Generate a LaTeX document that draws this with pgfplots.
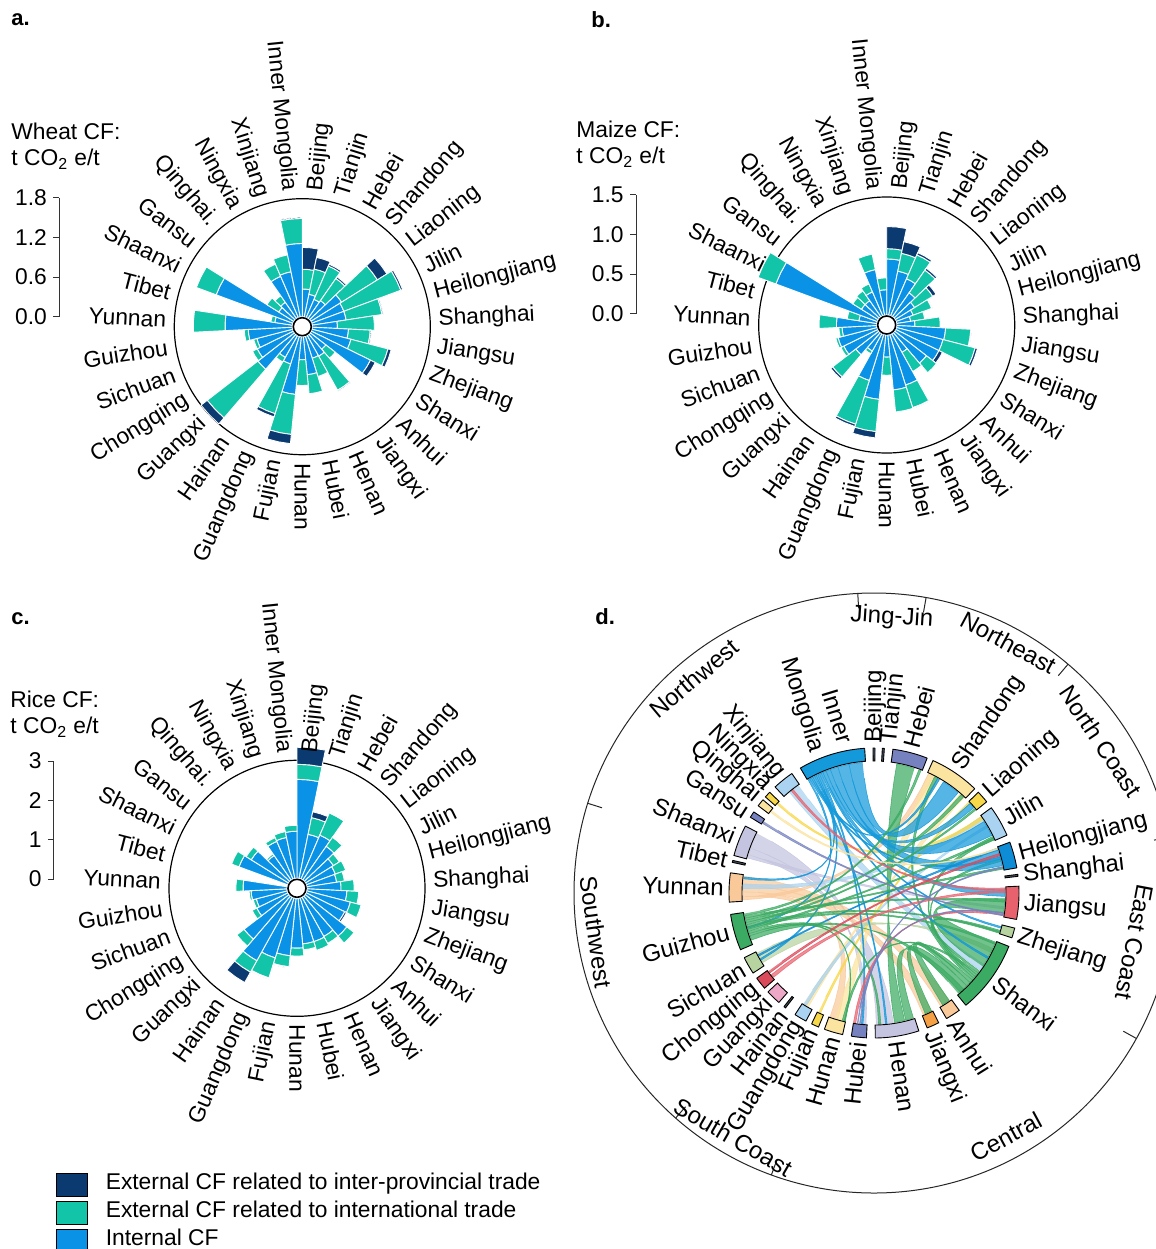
\documentclass[border=0pt]{standalone}
\usepackage{fontspec}
\setmainfont{Liberation Sans}
\usepackage{pgfplots}
\usepackage{pgfplotstable}
\pgfplotsset{compat=1.18}
\usepgfplotslibrary{polar}

% bar colours
\definecolor{cInter}{HTML}{0B3A70}
\definecolor{cIntl}{HTML}{12C4A8}
\definecolor{cInt}{HTML}{0A93E6}
% province colours of the flow diagram
\definecolor{cIM}{HTML}{1499DA}
\definecolor{cSmall}{HTML}{46505A}
\definecolor{cHeb}{HTML}{7682BF}
\definecolor{cShd}{HTML}{FBE4A0}
\definecolor{cLia}{HTML}{F7D84A}
\definecolor{cJil}{HTML}{A9D3F0}
\definecolor{cHlj}{HTML}{0E8CD6}
\definecolor{cJs}{HTML}{E8626E}
\definecolor{cZj}{HTML}{B7D3A0}
\definecolor{cSx}{HTML}{3BAA62}
\definecolor{cAh}{HTML}{F9C99A}
\definecolor{cJx}{HTML}{F5A044}
\definecolor{cHn}{HTML}{C4C4E0}
\definecolor{cGx}{HTML}{EDA8C8}
\definecolor{cCq}{HTML}{DB4A5A}

\newcommand\fs{\fontsize{11.4bp}{13.7bp}\selectfont}
\newcommand\fsd{\fontsize{12bp}{14.4bp}\selectfont}

% ---------------- carbon footprints, t CO2e per t (Beijing first, clockwise)
\pgfplotstableread{
prov internal intl inter
0  0.42 0.30 0.33
1  0.35 0.39 0.18
2  0.30 0.55 0.03
3  0.33 0.41 0.03
4  0.55 0.64 0.17
5  0.52 0.92 0.03
6  0.52 0.55 0.02
7  0.38 0.56 0.00
8  0.55 0.33 0.02
9  0.61 0.58 0.05
10 1.00 0.00 0.08
11 0.30 0.18 0.00
12 0.36 0.59 0.02
13 0.35 0.29 0.00
14 0.58 0.29 0.00
15 0.35 0.39 0.00
16 0.88 0.61 0.14
17 0.44 0.79 0.05
18 0.38 0.08 0.00
19 0.70 0.97 0.12
20 0.61 0.08 0.00
21 0.56 0.05 0.00
22 0.67 0.06 0.00
23 1.02 0.48 0.00
24 0.27 0.06 0.00
25 1.24 0.32 0.00
26 0.27 0.21 0.00
27 0.30 0.12 0.00
28 0.68 0.20 0.00
29 0.70 0.26 0.00
30 1.11 0.38 0.02
}\wheat

\pgfplotstableread{
prov internal intl inter
0  0.71 0.13 0.28
1  0.57 0.23 0.15
2  0.51 0.33 0.03
3  0.37 0.35 0.03
4  0.29 0.27 0.05
5  0.23 0.25 0.01
6  0.18 0.18 0.00
7  0.23 0.32 0.00
8  0.62 0.32 0.01
9  0.61 0.42 0.03
10 0.61 0.00 0.05
11 0.51 0.16 0.00
12 0.27 0.28 0.01
13 0.67 0.30 0.01
14 0.70 0.28 0.00
15 0.28 0.23 0.00
16 0.82 0.41 0.08
17 0.61 0.58 0.03
18 0.25 0.04 0.00
19 0.37 0.37 0.03
20 0.48 0.04 0.00
21 0.51 0.03 0.00
22 0.44 0.04 0.00
23 0.51 0.22 0.00
24 0.23 0.15 0.00
25 1.37 0.24 0.00
26 0.25 0.13 0.00
27 0.25 0.15 0.00
28 0.33 0.11 0.00
29 0.59 0.20 0.00
30 0.32 0.15 0.00
}\maize

\pgfplotstableread{
prov internal intl inter
0  2.50 0.38 0.43
1  1.14 0.43 0.15
2  1.21 0.61 0.03
3  1.04 0.28 0.03
4  0.83 0.18 0.03
5  0.78 0.28 0.00
6  0.76 0.20 0.00
7  0.86 0.33 0.00
8  1.01 0.30 0.00
9  1.14 0.28 0.00
10 1.09 0.00 0.05
11 1.34 0.23 0.00
12 1.14 0.20 0.00
13 1.16 0.23 0.00
14 1.16 0.15 0.00
15 1.26 0.20 0.00
16 1.46 0.28 0.03
17 1.59 0.53 0.03
18 1.84 0.33 0.30
19 1.44 0.23 0.00
20 0.88 0.13 0.00
21 0.81 0.08 0.00
22 0.91 0.05 0.00
23 1.11 0.18 0.00
24 0.00 0.00 0.00
25 1.31 0.20 0.00
26 1.11 0.15 0.00
27 0.76 0.05 0.00
28 1.04 0.10 0.00
29 1.06 0.15 0.00
30 1.19 0.15 0.00
}\rice

% ---------------- flow diagram: province sectors (degrees) and flows
\pgfplotstableread{
a1     a2     col
93.7   120.5  cIM
89.6   90.4   cSmall
85.9   86.7   cSmall
68.5   82.5   cHeb
46     66     cShd
39     44     cLia
23.5   36     cJil
10     20.5   cHlj
6.6    7.4    cSmall
-10.5  2.7    cJs
-18    -14    cZj
-50.7  -21.6  cSx
-60    -54    cAh
-68.5  -63.5  cJx
-89.5  -72    cHn
-99    -93    cHeb
-110   -102.5 cShd
-115.5 -112.5 cLia
-123   -118   cJil
-128.4 -127.6 cSmall
-137   -131   cGx
-144   -139   cCq
-153.5 -146.5 cZj
-171.5 -157   cSx
172    183.6  cAh
167    167.8  cSmall
152.5  165    cHn
146    148.5  cHeb
140    143    cShd
136    138.5  cLia
124.5  133    cJil
}\sectors

\pgfplotstableread{
a1     a2     b1     b2     col
153    160    -81.5  -89    cHn
160    163    -93.5  -96    cHn
163    164.5  -7     -6     cHn
172.5  176.5  -59.5  -55    cAh
176.5  179.5  -68    -64    cAh
179.5  181.5  -109.5 -106   cAh
181.5  183    63     65.5   cAh
60     65     -103   -107   cShd
46.5   49     -120   -122   cShd
125    130    -36    -33    cJil
33     35.5   176    178    cJil
-122.5 -121   30     31     cJil
136.5  137.5  34     35.5   cLia
-115   -114   43     43.8   cLia
-153   -148   -25    -27    cZj
-50    -45    -72.5  -76    cSx
-45    -43    -55    -58.5  cSx
-43    -41.5  -64    -67    cSx
-34    -22.5  -9     -2.5   cSx
-41.5  -40.5  61     62.5   cSx
-40.5  -39.5  24     25.5   cSx
-39.5  -38.5  14     15     cSx
-38.5  -37.5  -104   -103   cSx
-37.5  -36.5  -16.5  -17.5  cSx
72     80     -76.5  -81    cSx
95     101    50     58     cIM
101    106    12     19     cIM
106    109.5  26     33     cIM
109.5  111.5  40.5   43     cIM
111.5  113    -1.5   1.5    cIM
113    113.8  -15.5  -14.8  cIM
113.8  114.6  -95.5  -94.8  cIM
114.6  115.4  -150   -149.3 cIM
115.4  116.2  173    173.8  cIM
116.2  117    -30    -29.2  cIM
117    117.8  -85    -84.3  cIM
117.8  118.6  60     61     cIM
118.6  119.4  15     16     cIM
119.4  120.2  -165   -164.3 cIM
19     20     -152   -151.3 cHlj
-171   -170   69     70     cSx
-170   -169   -4     -3     cSx
-169   -168   47     48.5   cSx
-168   -167   10.5   11.5   cSx
-167   -166   39.2   40     cSx
-166   -165   -17.8  -17    cSx
-165   -164   -23    -22    cSx
-164   -163   23.8   24.8   cSx
-163   -162   -88    -87    cSx
-162   -161   -103   -102.6 cSx
-161   -159   -47    -49    cSx
0      1.2    -141.5 -140   cJs
1.2    2.2    128    129    cJs
-10    -9.3   -99    -98    cJs
-143.5 -142.5 16.5   17.5   cCq
-97.5  -97    -9     -8.5   cHeb
-96.5  -96    11     11.6   cHeb
147    148    -10    -9.5   cHeb
141    142    19.5   20     cShd
}\flows

\newcommand\provnames{Beijing,Tianjin,Hebei,Shandong,Liaoning,Jilin,Heilongjiang,Shanghai,Jiangsu,Zhejiang,Shanxi,Anhui,Jiangxi,Henan,Hubei,Hunan,Fujian,Guangdong,Hainan,Guangxi,Chongqing,Sichuan,Guizhou,Yunnan,Tibet,Shaanxi,Gansu,Qinghai.,Ningxia,Xinjiang,Inner Mongolia}
\newcommand\rzero{10}

% one stacked piece of a wedge, between radii #1 and #2
\newcommand\barseg[3]{%
  \ifdim #2pt>\dimexpr #1pt+0.2pt\relax
    \edef\tmpplot{\noexpand\addplot[fill=#3,draw=white,line width=0.45bp]
      coordinates {(\angL,#1) (\angL,#2) (\angC,#2) (\angR,#2) (\angR,#1) (\angC,#1) (\angL,#1)};}%
    \tmpplot
  \fi}

% stacked wedges of one crop: #1 table, #2 radius units per t CO2e/t
\newcommand\cfbars[2]{%
  \pgfplotsforeachungrouped \ii in {0,...,30}{%
    \pgfplotstablegetelem{\ii}{internal}\of{#1}\let\valA\pgfplotsretval
    \pgfplotstablegetelem{\ii}{intl}\of{#1}\let\valB\pgfplotsretval
    \pgfplotstablegetelem{\ii}{inter}\of{#1}\let\valC\pgfplotsretval
    \pgfmathsetmacro\angC{90-360/31*(\ii+0.5)}%
    \pgfmathsetmacro\angL{\angC+180/31}%
    \pgfmathsetmacro\angR{\angC-180/31}%
    \pgfmathsetmacro\radA{\rzero+#2*\valA}%
    \pgfmathsetmacro\radB{\radA+#2*\valB}%
    \pgfmathsetmacro\radC{\radB+#2*\valC}%
    \barseg{\rzero}{\radA}{cInt}%
    \barseg{\radA}{\radB}{cIntl}%
    \barseg{\radB}{\radC}{cInter}%
  }}

% province names around a wedge chart
\newcommand\cflabels{%
  \foreach \nm [count=\jj from 0] in \provnames {%
    \pgfmathsetmacro\angC{90-360/31*(\jj+0.5)}%
    \pgfmathtruncatemacro\isright{\angC>-90.5}%
    \ifnum\isright=1
      \edef\tmpnode{\noexpand\node[font=\noexpand\fs,inner sep=0pt,anchor=west,rotate=\angC] at (axis cs:\angC,136) {\nm};}%
    \else
      \pgfmathsetmacro\rotA{\angC+180}%
      \edef\tmpnode{\noexpand\node[font=\noexpand\fs,inner sep=0pt,anchor=east,rotate=\rotA] at (axis cs:\angC,136) {\nm};}%
    \fi
    \tmpnode}}

% ring sector of the flow diagram
\newcommand\ringseg[3]{%
  \gdef\ringpts{}%
  \pgfmathtruncatemacro\nseg{max(1,ceil(abs((#2)-(#1))/1.5))}%
  \foreach \kk in {0,...,\nseg}{%
    \pgfmathsetmacro\angT{#1+((#2)-(#1))*\kk/\nseg}\xdef\ringpts{\ringpts(\angT,145)}}%
  \foreach \kk in {\nseg,...,0}{%
    \pgfmathsetmacro\angT{#1+((#2)-(#1))*\kk/\nseg}\xdef\ringpts{\ringpts(\angT,132)}}%
  \edef\tmpplot{\noexpand\addplot[fill=#3,draw=black,line width=0.45bp] coordinates {\ringpts (#1,145)};}%
  \tmpplot}

% flow ribbons: arc ends on radius 131, quadratic curves through the centre
\newcommand\chordarc[2]{%
  \foreach \kk in {0,...,4}{%
    \pgfmathsetmacro\angT{#1+((#2)-(#1))*\kk/4}%
    \pgfmathsetmacro\ptX{131*cos(\angT)}\pgfmathsetmacro\ptY{131*sin(\angT)}%
    \xdef\chordpts{\chordpts(\ptX,\ptY)}}}
\newcommand\chordbez[2]{%
  \pgfmathsetmacro\begX{131*cos(#1)}\pgfmathsetmacro\begY{131*sin(#1)}%
  \pgfmathsetmacro\finX{131*cos(#2)}\pgfmathsetmacro\finY{131*sin(#2)}%
  \foreach \kk in {1,...,15}{%
    \pgfmathsetmacro\parT{\kk/16}%
    \pgfmathsetmacro\ptX{(1-\parT)^2*(\begX)+\parT^2*(\finX)}%
    \pgfmathsetmacro\ptY{(1-\parT)^2*(\begY)+\parT^2*(\finY)}%
    \xdef\chordpts{\chordpts(\ptX,\ptY)}}}
\newcommand\chord[5]{%
  \gdef\chordpts{}%
  \chordarc{#1}{#2}\chordbez{#2}{#3}\chordarc{#3}{#4}\chordbez{#4}{#1}%
  \edef\tmpplot{\noexpand\addplot[data cs=cart,fill=#5,draw=#5,fill opacity=0.72,draw opacity=0.85,line width=0.3bp] coordinates {\chordpts};}%
  \tmpplot}

\pgfplotsset{
  pxat/.style 2 args={at={({#1*0.5bp},{-#2*0.5bp})}},
  cfpolar/.style={
    scale only axis, width=128bp, height=128bp,
    xmin=0, xmax=360, ymin=0, ymax=128,
    xtick=\empty, ytick=\empty, grid=none,
    separate axis lines,
    x axis line style={black, line width=0.6bp},
    y axis line style={draw=none},
    clip=false, anchor=center},
  cfscale/.style={
    scale only axis, width=1bp, height=59.35bp,
    xmin=0, xmax=1, axis x line=none, axis y line*=left,
    ytick align=outside, major tick length=3bp,
    tick style={black!80, line width=0.5bp},
    axis line style={black!80, line width=0.5bp},
    yticklabel style={font=\fs, inner sep=0pt, xshift=-3bp},
    /pgf/number format/assume math mode=true,
    anchor=south west},
}

\begin{document}
\begin{tikzpicture}[x=0.5bp, y=-0.5bp]
\useasboundingbox (0,0) rectangle (1156,1249);

% ---------------- a. wheat
\begin{polaraxis}[cfpolar, pxat={302.3}{326.7}]
  \cfbars{\wheat}{66}
  \cflabels
  \draw[fill=white, line width=0.8bp] (axis cs:0,0) circle[radius=4.5bp];
\end{polaraxis}
\begin{axis}[cfscale, pxat={59.3}{316.7}, ymin=0, ymax=1.8, ytick={0,0.6,1.2,1.8},
  yticklabel style={/pgf/number format/.cd, fixed, fixed zerofill, precision=1}]
\end{axis}

% ---------------- b. maize
\begin{polaraxis}[cfpolar, pxat={886.7}{325}]
  \cfbars{\maize}{79}
  \cflabels
  \draw[fill=white, line width=0.8bp] (axis cs:0,0) circle[radius=4.5bp];
\end{polaraxis}
\begin{axis}[cfscale, pxat={636}{313.7}, ymin=0, ymax=1.5, ytick={0,0.5,1.0,1.5},
  yticklabel style={/pgf/number format/.cd, fixed, fixed zerofill, precision=1}]
\end{axis}

% ---------------- c. rice
\begin{polaraxis}[cfpolar, pxat={297}{888.3}]
  \cfbars{\rice}{39.6}
  \cflabels
  \draw[fill=white, line width=0.8bp] (axis cs:0,0) circle[radius=4.5bp];
\end{polaraxis}
\begin{axis}[cfscale, pxat={54}{879}, height=59bp, ymin=0, ymax=3, ytick={0,1,2,3},
  yticklabel style={/pgf/number format/.cd, fixed, precision=0}]
\end{axis}

% ---------------- d. inter-provincial flows
\begin{polaraxis}[scale only axis, width=300bp, height=300bp, pxat={874}{893}, anchor=center,
  xmin=0, xmax=360, ymin=0, ymax=300,
  xtick={93.1,80,49.7,10.7,331,250,228.6,162.6}, xticklabels={,,,,,,,},
  ytick=\empty, grid=none, xtick align=outside, major tick length=7.5bp,
  tick style={black!85, line width=0.5bp},
  separate axis lines,
  x axis line style={black!85, line width=0.5bp},
  y axis line style={draw=none}, clip=false]
  \pgfplotstablegetrowsof{\flows}\pgfmathtruncatemacro\nrow{\pgfplotsretval-1}%
  \pgfplotsforeachungrouped \ii in {0,...,\nrow}{%
    \pgfplotstablegetelem{\ii}{a1}\of{\flows}\let\chA\pgfplotsretval
    \pgfplotstablegetelem{\ii}{a2}\of{\flows}\let\chB\pgfplotsretval
    \pgfplotstablegetelem{\ii}{b1}\of{\flows}\let\chC\pgfplotsretval
    \pgfplotstablegetelem{\ii}{b2}\of{\flows}\let\chD\pgfplotsretval
    \pgfplotstablegetelem{\ii}{col}\of{\flows}\let\chCol\pgfplotsretval
    \chord{\chA}{\chB}{\chC}{\chD}{\chCol}}
  \pgfplotstablegetrowsof{\sectors}\pgfmathtruncatemacro\nrow{\pgfplotsretval-1}%
  \pgfplotsforeachungrouped \ii in {0,...,\nrow}{%
    \pgfplotstablegetelem{\ii}{a1}\of{\sectors}\let\chA\pgfplotsretval
    \pgfplotstablegetelem{\ii}{a2}\of{\sectors}\let\chB\pgfplotsretval
    \pgfplotstablegetelem{\ii}{col}\of{\sectors}\let\chCol\pgfplotsretval
    \ringseg{\chA}{\chB}{\chCol}}
  \foreach \nm/\ang in {Beijing/89.7, Tianjin/84, Hebei/75.5, Shandong/56, Liaoning/41.3,
      Jilin/29.6, Heilongjiang/15, Shanghai/6.6, Jiangsu/-4.3, Zhejiang/-17, Shanxi/-36.3,
      Anhui/-58, Jiangxi/-68, Henan/-81.5, Hubei/-96, Hunan/-105.8, Fujian/-113.8,
      Guangdong/-120.5, Hainan/-127.5, Guangxi/-133.8, Chongqing/-141.4, Sichuan/-149.8,
      Guizhou/-165, Yunnan/178, Tibet/167.3, Shaanxi/158, Gansu/147.5, Qinghai/140.7,
      Ningxia/134.8, Xinjiang/128.5}{%
    \pgfmathtruncatemacro\isright{and(\ang>-90.5,\ang<90.5)}%
    \ifnum\isright=1
      \edef\tmpnode{\noexpand\node[font=\noexpand\fsd,inner sep=0pt,anchor=west,rotate=\ang] at (axis cs:\ang,150) {\nm};}%
    \else
      \pgfmathsetmacro\rotA{\ang+180}%
      \edef\tmpnode{\noexpand\node[font=\noexpand\fsd,inner sep=0pt,anchor=east,rotate=\rotA] at (axis cs:\ang,150) {\nm};}%
    \fi
    \tmpnode}
  \node[font=\fsd, inner sep=0pt, anchor=east, rotate=287, align=right] at (axis cs:107,152) {Inner\\Mongolia};
  % regions
  \node[font=\fsd, rotate=-3.7] at (axis cs:86.3,276) {Jing-Jin};
  \node[font=\fsd, rotate=-28.2] at (axis cs:61.8,284) {Northeast};
  \node[font=\fsd, rotate=-56.2] at (axis cs:33.8,273) {North Coast};
  \node[font=\fsd, rotate=-100.7] at (axis cs:-10.7,265) {East Coast};
  \node[font=\fsd, rotate=28.4] at (axis cs:-61.6,277) {Central};
  \node[font=\fsd, rotate=-30] at (axis cs:-120,282) {South Coast};
  \node[font=\fsd, rotate=-82] at (axis cs:-172,281) {Southwest};
  \node[font=\fsd, rotate=40] at (axis cs:130,280) {Northwest};
\end{polaraxis}

% ---------------- legend
\begin{axis}[pxat={56}{1171}, anchor=north west, scale only axis, width=1bp, height=1bp,
  hide axis, xmin=0, xmax=1, ymin=0, ymax=1,
  legend style={at={(0,1)}, anchor=north west, draw=none, fill=none, inner sep=0pt,
    outer sep=0pt, font=\fs, row sep=0pt, legend cell align=left,
    nodes={inner sep=0pt, text height=9.3bp, text depth=4.6bp},
    /tikz/every odd column/.append style={column sep=9bp}},
  legend image code/.code={\fill[#1] (0bp,-5.6bp) rectangle (15.5bp,5.6bp);}]
  \addlegendimage{fill=cInter}
  \addlegendentry{External CF related to inter-provincial trade}
  \addlegendimage{fill=cIntl}
  \addlegendentry{External CF related to international trade}
  \addlegendimage{fill=cInt}
  \addlegendentry{Internal CF}
\end{axis}

% ---------------- titles
\node[font=\bfseries\fontsize{11bp}{13bp}\selectfont, anchor=west, inner sep=0pt] at (11,20) {a.};
\node[font=\bfseries\fontsize{11bp}{13bp}\selectfont, anchor=west, inner sep=0pt] at (591,20) {b.};
\node[font=\bfseries\fontsize{11bp}{13bp}\selectfont, anchor=west, inner sep=0pt] at (11,619) {c.};
\node[font=\bfseries\fontsize{11bp}{13bp}\selectfont, anchor=west, inner sep=0pt] at (595,617) {d.};
\node[font=\fs, anchor=west, inner sep=0pt] at (11,131) {Wheat CF:};
\node[font=\fs, anchor=west, inner sep=0pt] at (11,159) {t CO\textsubscript{2} e/t};
\node[font=\fs, anchor=west, inner sep=0pt] at (576,129) {Maize CF:};
\node[font=\fs, anchor=west, inner sep=0pt] at (576,157) {t CO\textsubscript{2} e/t};
\node[font=\fs, anchor=west, inner sep=0pt] at (10,699) {Rice CF:};
\node[font=\fs, anchor=west, inner sep=0pt] at (10,727) {t CO\textsubscript{2} e/t};
\end{tikzpicture}
\end{document}
